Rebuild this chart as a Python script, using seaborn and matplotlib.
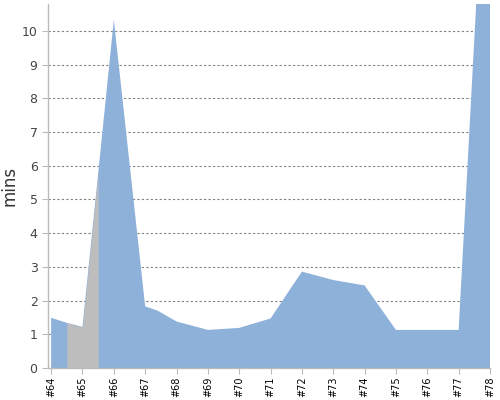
import matplotlib
matplotlib.use("Agg")
import matplotlib.pyplot as plt
import numpy as np
import pandas as pd
import seaborn as sns

# build numbers (x) and duration in minutes
build_x = [64, 64.5, 65, 65.5, 66, 67, 67.4, 68, 69, 70, 71, 72, 73, 74, 75, 76, 77, 78]
mins = [1.49, 1.34, 1.22, 5.77, 10.33, 1.83, 1.70, 1.38, 1.13, 1.19, 1.47, 2.86, 2.61, 2.45, 1.13, 1.13, 1.13, 18.4]

# highlighted (gray) stretch
gray_from, gray_to = 64.5, 65.5

tick_runs = list(range(64, 79))
tick_labels = [f"#{r}" for r in tick_runs]

df = pd.DataFrame({"build": build_x, "mins": mins})

sns.set_style("white")
fig = plt.figure(figsize=(5, 4), dpi=100)
ax = fig.add_axes([0.096, 0.08, 0.884, 0.91])

sns.lineplot(data=df, x="build", y="mins", ax=ax, linewidth=0, color="#8eb1da")
ax.fill_between(df["build"], df["mins"], color="#8eb1da", linewidth=0)
mask = (df["build"] >= gray_from) & (df["build"] <= gray_to)
ax.fill_between(df["build"][mask], df["mins"][mask], color="#bdbdbd", linewidth=0)

ax.set_xlim(63.9, 78)
ax.set_ylim(0, 10.8)
ax.set_yticks(range(0, 11))
ax.set_xticks(tick_runs)
ax.set_xticklabels(tick_labels, rotation=90, fontsize=7, color="black")
ax.tick_params(axis="y", labelsize=9, labelcolor="#444444", length=4, color="#bbbbbb", left=True)
ax.tick_params(axis="x", length=4, color="#bbbbbb", bottom=True, pad=2)

ax.grid(axis="y", linestyle=(0, (2, 2)), color="#808080", linewidth=0.8)
for ln in ax.get_ygridlines():
    ln.set_zorder(3)

for s in ["top", "right"]:
    ax.spines[s].set_visible(False)
for s in ["left", "bottom"]:
    ax.spines[s].set_color("#bbbbbb")
    ax.spines[s].set_linewidth(1)

ax.set_xlabel("")
ax.set_ylabel("mins", fontsize=12, color="#333333")
ax.yaxis.set_label_coords(-0.066, 0.5)

plt.savefig("out.png", dpi=100)
